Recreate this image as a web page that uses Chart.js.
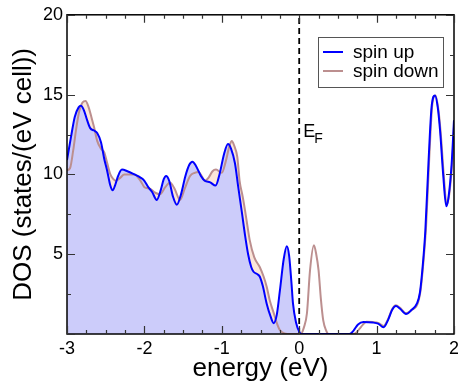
<!DOCTYPE html>
<html>
<head>
<meta charset="utf-8">
<script src="https://cdn.jsdelivr.net/npm/chart.js@4/dist/chart.umd.min.js"></script>
<style>
  html, body { margin: 0; padding: 0; background: #fff; }
</style>
</head>
<body>
<canvas id="dos" width="458" height="385"></canvas>
<script>
// Density of states (energy in eV, DOS in states/(eV cell)).

const ENERGY_UP = [
  -3.00, -2.95, -2.90, -2.85, -2.82, -2.78, -2.74, -2.70, -2.65, -2.61,
  -2.56, -2.52, -2.48, -2.44, -2.41, -2.38, -2.34, -2.29, -2.22, -2.13,
  -2.05, -2.00, -1.95, -1.90, -1.84, -1.79, -1.75, -1.72, -1.68, -1.63,
  -1.58, -1.53, -1.47, -1.42, -1.38, -1.33, -1.27, -1.22, -1.15, -1.08,
  -1.03, -0.97, -0.92, -0.88, -0.83, -0.79, -0.74, -0.70, -0.66, -0.62,
  -0.59, -0.54, -0.51, -0.47, -0.42, -0.37, -0.33, -0.29, -0.25, -0.20,
  -0.16, -0.13, -0.10, -0.08, -0.04, 0.00, 0.03, 0.65, 0.70, 0.76,
  0.83, 0.95, 1.02, 1.09, 1.15, 1.20, 1.25, 1.30, 1.38, 1.45,
  1.52, 1.56, 1.60, 1.63, 1.67, 1.71, 1.755, 1.79, 1.82, 1.86,
  1.90, 1.93, 1.97, 2.00
];
const DOS_UP = [
  10.9, 12.3, 13.6, 14.2, 14.3, 14.0, 13.4, 12.9, 12.75, 12.6,
  12.0, 11.0, 10.2, 9.3, 9.0, 9.3, 9.9, 10.3, 10.2, 10.0,
  9.8, 9.6, 9.2, 8.9, 8.4, 9.0, 9.7, 9.9, 9.6, 8.6,
  8.1, 8.7, 9.9, 10.6, 10.8, 10.5, 9.9, 9.6, 9.5, 9.3,
  10.0, 11.3, 11.9, 11.6, 10.7, 9.3, 7.6, 6.2, 5.0, 4.2,
  3.9, 3.75, 3.6, 3.0, 1.9, 1.1, 0.68, 1.2, 2.7, 4.7,
  5.5, 4.9, 3.2, 1.9, 0.7, 0.15, 0.0, 0.0, 0.2, 0.6,
  0.75, 0.72, 0.65, 0.42, 0.9, 1.5, 1.75, 1.6, 1.25, 1.5,
  1.9, 2.6, 4.5, 6.5, 10.7, 14.2, 14.95, 14.2, 12.75, 10.0,
  8.0, 8.6, 10.7, 13.4
];

const ENERGY_DOWN = [
  -3.00, -2.96, -2.92, -2.88, -2.84, -2.80, -2.76, -2.72, -2.68, -2.65,
  -2.61, -2.56, -2.52, -2.48, -2.44, -2.40, -2.37, -2.31, -2.26, -2.13,
  -2.05, -2.00, -1.93, -1.86, -1.80, -1.73, -1.67, -1.61, -1.54, -1.48,
  -1.41, -1.35, -1.30, -1.26, -1.22, -1.17, -1.12, -1.075, -1.00, -0.95,
  -0.90, -0.87, -0.84, -0.80, -0.77, -0.73, -0.70, -0.67, -0.64, -0.58,
  -0.51, -0.46, -0.42, -0.38, -0.335, -0.29, -0.25, -0.20, -0.15, 0.00,
  0.02, 0.06, 0.10, 0.14, 0.19, 0.22, 0.25, 0.28, 0.31, 0.35,
  0.38, 0.70, 0.74, 0.80, 0.87, 0.95, 1.02, 1.09, 1.15, 1.20,
  1.25, 1.30, 1.38, 1.45, 1.53, 1.57, 1.61, 1.64, 1.68, 1.72,
  1.76, 1.80, 1.83, 1.87, 1.905, 1.94, 1.98, 2.00
];
const DOS_DOWN = [
  10.25, 10.4, 11.5, 12.9, 14.0, 14.5, 14.6, 14.2, 13.5, 12.95,
  12.1, 11.6, 11.4, 10.7, 10.0, 9.7, 9.6, 9.8, 10.0, 10.0,
  9.6, 9.2, 9.1, 8.85, 8.75, 9.2, 9.5, 9.1, 8.4, 9.1,
  9.9, 10.1, 10.15, 9.9, 9.6, 9.8, 10.2, 10.3, 10.1, 10.8,
  11.8, 12.1, 11.8, 11.1, 9.6, 8.6, 7.75, 6.8, 5.9, 4.8,
  4.2, 3.6, 2.96, 2.1, 1.4, 0.7, 0.25, 0.05, 0.0, 0.0,
  0.0, 0.4, 1.3, 4.0, 5.56, 5.0, 4.0, 2.2, 0.87, 0.2,
  0.0, 0.0, 0.1, 0.45, 0.77, 0.75, 0.7, 0.5, 0.95, 1.55,
  1.8, 1.65, 1.3, 1.5, 1.9, 2.8, 4.8, 6.8, 11.0, 14.4,
  14.95, 14.0, 12.5, 9.8, 8.1, 8.8, 11.0, 13.0
];

const FERMI = 0;
const X_MIN = -3, X_MAX = 2;
const Y_MIN = 0, Y_MAX = 20;

const BLUE = '#0000ff';
const BROWN = 'rgb(188,143,143)';

const toPoints = (xs, ys) => xs.map((x, i) => ({ x, y: ys[i] }));
const occupied = pts => pts.filter(p => p.x <= FERMI);

const upPts = toPoints(ENERGY_UP, DOS_UP);
const downPts = toPoints(ENERGY_DOWN, DOS_DOWN);

Chart.defaults.font.family = '"Liberation Sans", Arial, Helvetica, sans-serif';
Chart.defaults.color = '#000';

// frame, inward ticks, E_F label and legend box
const decor = {
  id: 'decor',
  afterDraw(chart) {
    const { ctx, chartArea: a, scales: { x, y } } = chart;
    ctx.save();
    ctx.strokeStyle = '#000';
    ctx.lineWidth = 1.5;
    ctx.strokeRect(a.left, a.top, a.right - a.left, a.bottom - a.top);

    ctx.lineWidth = 1.2;
    ctx.strokeStyle = '#333';
    ctx.beginPath();
    for (let v = X_MIN; v <= X_MAX + 1e-9; v += 0.25) {
      const px = Math.round(x.getPixelForValue(v)) + 0.5;
      const len = Number.isInteger(v) ? 8 : 4;
      ctx.moveTo(px, a.bottom); ctx.lineTo(px, a.bottom - len);
      ctx.moveTo(px, a.top); ctx.lineTo(px, a.top + len);
    }
    for (let v = Y_MIN; v <= Y_MAX + 1e-9; v += 2.5) {
      const py = Math.round(y.getPixelForValue(v)) + 0.5;
      const len = v % 5 === 0 ? 8 : 4;
      ctx.moveTo(a.left, py); ctx.lineTo(a.left + len, py);
      ctx.moveTo(a.right, py); ctx.lineTo(a.right - len, py);
    }
    ctx.stroke();

    // E_F
    const ex = x.getPixelForValue(FERMI);
    ctx.fillStyle = '#000';
    ctx.textBaseline = 'alphabetic';
    ctx.textAlign = 'left';
    ctx.font = '18px "Liberation Sans", Arial, sans-serif';
    ctx.fillText('E', ex + 4, 137);
    ctx.font = '14px "Liberation Sans", Arial, sans-serif';
    ctx.fillText('F', ex + 15, 143);

    // legend
    ctx.fillStyle = '#fff';
    ctx.fillRect(318.5, 37.5, 125, 50);
    ctx.strokeStyle = '#555';
    ctx.lineWidth = 1;
    ctx.strokeRect(318.5, 37.5, 125, 50);
    const rows = [['spin up', BLUE, 52], ['spin down', BROWN, 71]];
    ctx.font = '19px "Liberation Sans", Arial, sans-serif';
    ctx.textBaseline = 'middle';
    rows.forEach(([label, color, ly]) => {
      ctx.strokeStyle = color;
      ctx.lineWidth = 2;
      ctx.beginPath();
      ctx.moveTo(323, ly); ctx.lineTo(343, ly);
      ctx.stroke();
      ctx.fillStyle = '#000';
      ctx.fillText(label, 353, ly + 1);
    });
    ctx.restore();
  }
};

new Chart(document.getElementById('dos'), {
  type: 'line',
  data: {
    datasets: [
      { label: 'spin up', data: upPts, borderColor: BLUE, borderWidth: 2, fill: false, order: 1 },
      { label: 'spin down', data: downPts, borderColor: BROWN, borderWidth: 2, fill: false, order: 2 },
      { label: 'E_F', data: [{ x: FERMI, y: Y_MIN }, { x: FERMI, y: Y_MAX }], borderColor: '#000',
        borderWidth: 1.8, borderDash: [6, 4], fill: false, order: 3, cubicInterpolationMode: 'default', tension: 0 },
      { label: 'up fill', data: occupied(upPts), borderWidth: 0, borderColor: 'rgba(0,0,0,0)',
        backgroundColor: 'rgb(204,204,250)', fill: 'origin', order: 4 },
      { label: 'down fill', data: occupied(downPts), borderWidth: 0, borderColor: 'rgba(0,0,0,0)',
        backgroundColor: 'rgb(251,230,218)', fill: 'origin', order: 5 },
    ],
  },
  options: {
    responsive: false,
    animation: false,
    events: [],
    layout: { padding: { top: 14, right: 4, left: 0, bottom: 0 } },
    elements: {
      point: { radius: 0 },
      line: { cubicInterpolationMode: 'monotone' },
    },
    plugins: { legend: { display: false }, tooltip: { enabled: false } },
    scales: {
      x: {
        type: 'linear', min: X_MIN, max: X_MAX,
        grid: { display: false, drawTicks: false },
        border: { display: false },
        ticks: {
          stepSize: 0.25, autoSkip: false, maxRotation: 0, padding: 4,
          font: { size: 18 }, color: '#000',
          callback: v => Number.isInteger(v) ? v : '',
        },
        title: { display: true, text: 'energy (eV)', font: { size: 26 }, color: '#000', padding: { top: 0, bottom: 1 } },
        afterFit: s => { s.height = 51; s.paddingRight = 0; },
      },
      y: {
        min: Y_MIN, max: Y_MAX,
        grid: { display: false, drawTicks: false },
        border: { display: false },
        ticks: {
          stepSize: 2.5, autoSkip: false, padding: 4,
          font: { size: 18 }, color: '#000',
          callback: v => (v % 5 === 0 && v !== 0) ? v : '',
        },
        title: { display: true, text: 'DOS (states/(eV cell))', font: { size: 26 }, color: '#000', padding: { top: 8, bottom: 0 } },
        afterFit: s => { s.width = 67; },
      },
    },
  },
  plugins: [decor],
});
</script>
</body>
</html>
